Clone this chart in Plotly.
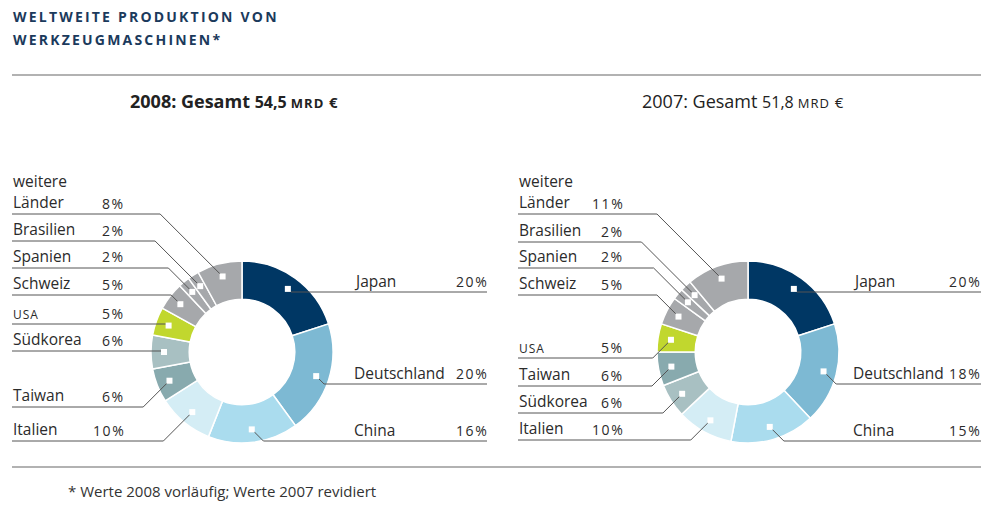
import math
import plotly.graph_objects as go

# ---------------- data ----------------
countries_2008 = ["Japan", "Deutschland", "China", "Italien", "Taiwan", "Südkorea",
                  "USA", "Schweiz", "Spanien", "Brasilien", "weitere Länder"]
values_2008 = [20, 20, 16, 10, 6, 6, 5, 5, 2, 2, 8]

countries_2007 = ["Japan", "Deutschland", "China", "Italien", "Südkorea", "Taiwan",
                  "USA", "Schweiz", "Spanien", "Brasilien", "weitere Länder"]
values_2007 = [20, 18, 15, 10, 6, 6, 5, 5, 2, 2, 11]

total_2008 = "54,5"
total_2007 = "51,8"

# ---------------- style / layout ----------------
PAGE_W, PAGE_H = 989, 507
OFF = 8                      # default body margin of the html page
W, H = PAGE_W - OFF, PAGE_H - OFF
FONT = "Open Sans"
TXT = "#2b2b2b"
LINE = "#555555"
NAVY = "#1b3a5c"

colors = {
    "Japan": "#003764",
    "Deutschland": "#7db9d3",
    "China": "#aadcee",
    "Italien": "#d4edf5",
    "Taiwan": "#88aaae",
    "Südkorea": "#a8c0c2",
    "USA": "#c1d72e",
    "Schweiz": "#a6a8ab",
    "Spanien": "#a6a8ab",
    "Brasilien": "#a6a8ab",
    "weitere Länder": "#a6a8ab",
}

right_side = {"Japan", "Deutschland", "China"}

charts = [
    dict(names=countries_2008, values=values_2008, cx=242, cy=352, R=91,
         left_x=11, left_pct=127, right_x=352, right_pct=490, right_end=487,
         under_y={"weitere Länder": 214, "Brasilien": 241, "Spanien": 268,
                  "Schweiz": 295, "USA": 324, "Südkorea": 351, "Taiwan": 407,
                  "Italien": 441, "Japan": 292, "Deutschland": 384, "China": 441}),
    dict(names=countries_2007, values=values_2007, cx=748, cy=352, R=91,
         left_x=517, left_pct=626, right_x=851, right_pct=983, right_end=989,
         under_y={"weitere Länder": 214, "Brasilien": 242, "Spanien": 268,
                  "Schweiz": 295, "USA": 358, "Taiwan": 386, "Südkorea": 413,
                  "Italien": 440, "Japan": 292, "Deutschland": 384, "China": 441}),
]
HOLE = 0.58
MARK_R = 78


def X(x):
    return (x - OFF) / W


def Y(y):
    return 1 - (y - OFF) / H


fig = go.Figure()
shapes = []
annotations = []


def ann(text, x, y, size=15.5, xanchor="left", color=TXT, yanchor="middle"):
    annotations.append(dict(text=text, x=X(x), y=Y(y), xref="paper", yref="paper",
                            xanchor=xanchor, yanchor=yanchor, showarrow=False,
                            font=dict(family=FONT, size=size, color=color)))


def pct_text(v):
    return f"<span style='letter-spacing:1.6px'>{v}%</span>"


for ch in charts:
    cx, cy, R = ch["cx"], ch["cy"], ch["R"]
    fig.add_trace(go.Pie(
        labels=ch["names"], values=ch["values"], sort=False, direction="clockwise",
        rotation=0, hole=HOLE, textinfo="none", hoverinfo="label+percent",
        marker=dict(colors=[colors[n] for n in ch["names"]],
                    line=dict(color="white", width=1.5)),
        domain=dict(x=[X(cx - R), X(cx + R)], y=[Y(cy + R), Y(cy - R)]),
        showlegend=False,
    ))
    total = sum(ch["values"])
    cum = 0
    for name, v in zip(ch["names"], ch["values"]):
        theta = math.radians((cum + v / 2) / total * 360)
        cum += v
        mx = cx + MARK_R * math.sin(theta)
        my = cy - MARK_R * math.cos(theta)
        uy = ch["under_y"][name]
        dy = abs(my - uy)
        if name in right_side:
            ex = mx + dy
            path = f"M {X(mx)},{Y(my)} L {X(ex)},{Y(uy)} L {X(ch['right_end'])},{Y(uy)}"
            ann(name, ch["right_x"], uy - 11.5)
            ann(pct_text(v), ch["right_pct"], uy - 11, size=14, xanchor="right")
        else:
            ex = mx - dy
            path = f"M {X(ch['left_x'] + 1)},{Y(uy)} L {X(ex)},{Y(uy)} L {X(mx)},{Y(my)}"
            if name == "weitere Länder":
                ann("weitere", ch["left_x"], uy - 33)
                ann("Länder", ch["left_x"], uy - 12)
            elif name == "USA":
                ann("<span style='letter-spacing:1px'>USA</span>", ch["left_x"], uy - 10, size=12)
            else:
                ann(name, ch["left_x"], uy - 12)
            ann(pct_text(v), ch["left_pct"], uy - 11, size=14, xanchor="right")
        shapes.append(dict(type="path", path=path, xref="paper", yref="paper",
                           line=dict(color=LINE, width=1), layer="above"))
        shapes.append(dict(type="rect", xref="paper", yref="paper",
                           x0=X(mx - 3), x1=X(mx + 3), y0=Y(my + 3), y1=Y(my - 3),
                           fillcolor="white", line=dict(width=0), layer="above"))

# horizontal rules
for ry in (75, 467):
    shapes.append(dict(type="line", xref="paper", yref="paper",
                       x0=X(12), x1=X(989), y0=Y(ry), y1=Y(ry),
                       line=dict(color="#666666", width=1.2)))

# title
ts = "<span style='letter-spacing:2.2px'><b>{}</b></span>"
ann(ts.format("WELTWEITE PRODUKTION VON"), 11, 16, size=14, color=NAVY)
ann(ts.format("WERKZEUGMASCHINEN*"), 11, 40, size=14, color=NAVY)

# subtitles
sub = ("{b0}{year}: Gesamt <span style='font-size:16px'>{tot} </span>"
       "<span style='font-size:13px;letter-spacing:1px'>MRD</span> "
       "<span style='font-size:15px'>€</span>{b1}")
ann(sub.format(b0="<b>", b1="</b>", year="2008", tot=total_2008), 234, 101,
    size=18, xanchor="center", color="#222222")
ann(sub.format(b0="", b1="", year="2007", tot=total_2007), 743, 101,
    size=18, xanchor="center", color="#222222")

# footnote
ann("* Werte 2008 vorläufig; Werte 2007 revidiert", 66, 491, size=15, color="#333333")

fig.update_layout(
    width=W, height=H, margin=dict(l=0, r=0, t=0, b=0),
    paper_bgcolor="white", plot_bgcolor="white",
    shapes=shapes, annotations=annotations,
    font=dict(family=FONT),
)

fig.write_html("out.html", config={"displayModeBar": False})
